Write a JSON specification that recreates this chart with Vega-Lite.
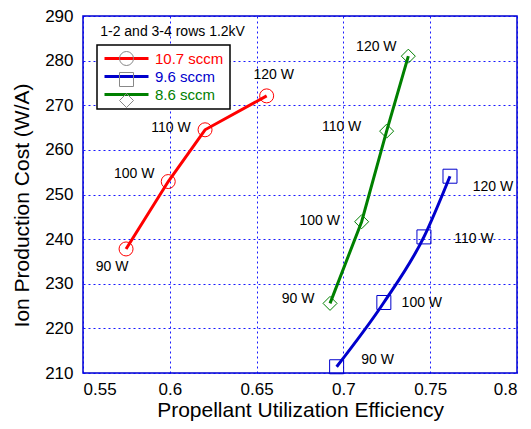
{
  "$schema": "https://vega.github.io/schema/vega-lite/v6.json",
  "width": 434,
  "height": 357,
  "autosize": {"type": "none"},
  "padding": {"left": 83, "top": 16, "right": 14, "bottom": 56},
  "background": "#ffffff",
  "config": {
    "font": "Liberation Sans",
    "view": {"stroke": "#0000cc", "strokeWidth": 1.5},
    "axis": {
      "grid": true,
      "gridColor": "#0000ff",
      "gridDash": [2, 3],
      "gridWidth": 1,
      "gridOpacity": 0.9,
      "domain": false,
      "ticks": false,
      "labelFont": "Liberation Sans",
      "labelFontSize": 17,
      "labelColor": "#000000",
      "titleFont": "Liberation Sans",
      "titleFontSize": 21,
      "titleFontWeight": "normal",
      "titleColor": "#000000"
    }
  },
  "data": {
    "values": [
      {"series": "10.7 sccm", "power": "90 W", "eff": 0.5748, "cost": 237.8},
      {"series": "10.7 sccm", "power": "100 W", "eff": 0.5991, "cost": 252.9},
      {"series": "10.7 sccm", "power": "110 W", "eff": 0.6203, "cost": 264.5},
      {"series": "10.7 sccm", "power": "120 W", "eff": 0.6558, "cost": 272.1},
      {"series": "9.6 sccm", "power": "90 W", "eff": 0.6961, "cost": 211.4},
      {"series": "9.6 sccm", "power": "100 W", "eff": 0.7233, "cost": 225.8},
      {"series": "9.6 sccm", "power": "110 W", "eff": 0.7464, "cost": 240.5},
      {"series": "9.6 sccm", "power": "120 W", "eff": 0.7614, "cost": 254.1},
      {"series": "8.6 sccm", "power": "90 W", "eff": 0.6923, "cost": 225.6},
      {"series": "8.6 sccm", "power": "100 W", "eff": 0.7105, "cost": 243.9},
      {"series": "8.6 sccm", "power": "110 W", "eff": 0.7249, "cost": 264.2},
      {"series": "8.6 sccm", "power": "120 W", "eff": 0.7374, "cost": 281.0}
    ]
  },
  "encoding": {
    "x": {
      "field": "eff",
      "type": "quantitative",
      "scale": {"domain": [0.55, 0.8], "nice": false, "zero": false},
      "axis": {
        "title": "Propellant Utilization Efficiency",
        "values": [0.55, 0.6, 0.65, 0.7, 0.75, 0.8],
        "format": ".2~f",
        "labelPadding": 8,
        "titlePadding": 2
      }
    },
    "y": {
      "field": "cost",
      "type": "quantitative",
      "scale": {"domain": [210, 290], "nice": false, "zero": false},
      "axis": {
        "title": "Ion Production Cost (W/A)",
        "values": [210, 220, 230, 240, 250, 260, 270, 280, 290],
        "labelPadding": 10,
        "titleX": -61,
        "titleY": 189,
        "titleAngle": -90,
        "titleAlign": "center",
        "titleBaseline": "middle"
      }
    }
  },
  "layer": [
    {
      "transform": [{"filter": "datum.series != '9.6 sccm'"}],
      "mark": {"type": "line", "strokeWidth": 3},
      "encoding": {
        "color": {
          "field": "series",
          "type": "nominal",
          "scale": {"domain": ["10.7 sccm", "9.6 sccm", "8.6 sccm"], "range": ["#ff0000", "#0000cc", "#008000"]},
          "legend": {
            "orient": "none",
            "legendX": 14,
            "legendY": 29,
            "title": null,
            "symbolType": "M-4,0H4",
            "symbolSize": 121,
            "symbolStrokeWidth": 3,
            "symbolOffset": 16,
            "labelOffset": 21,
            "labelFontSize": 15,
            "labelFont": "Liberation Sans",
            "padding": 6,
            "rowPadding": 2,
            "strokeColor": "#000000",
            "fillColor": "#ffffff",
            "encode": {
              "labels": {"update": {"fill": {"scale": "color", "field": "value"}}},
              "symbols": {"update": {"stroke": {"scale": "color", "field": "value"}, "fill": {"value": "transparent"}, "strokeWidth": {"value": 3}}},
              "legend": {"update": {"strokeWidth": {"value": 1.5}}}
            }
          }
        }
      }
    },
    {
      "transform": [{"filter": "datum.series == '9.6 sccm'"}],
      "mark": {"type": "line", "strokeWidth": 3, "interpolate": "monotone"},
      "encoding": {
        "color": {"field": "series", "type": "nominal"}
      }
    },
    {
      "mark": {"type": "point", "filled": false, "size": 196, "strokeWidth": 1, "opacity": 1},
      "encoding": {
        "color": {"field": "series", "type": "nominal"},
        "shape": {
          "field": "series",
          "type": "nominal",
          "sort": ["10.7 sccm", "9.6 sccm", "8.6 sccm"],
          "scale": {"range": ["circle", "square", "diamond"]},
          "legend": {
            "orient": "none",
            "legendX": 14,
            "legendY": 29,
            "title": null,
            "symbolSize": 196,
            "symbolStrokeWidth": 1,
            "symbolOffset": 16,
            "labelOffset": 21,
            "labelFontSize": 15,
            "labelExpr": "''",
            "padding": 6,
            "rowPadding": 2,
            "encode": {
              "symbols": {"update": {"stroke": {"scale": "color", "field": "value"}, "fill": {"value": "transparent"}, "strokeWidth": {"value": 1}}}
            }
          }
        }
      }
    },
    {
      "transform": [{"filter": "datum.series == '10.7 sccm' && datum.power == '90 W'"}],
      "mark": {"type": "text", "dx": -14, "dy": 18.5, "fontSize": 14, "color": "#000000"},
      "encoding": {"text": {"field": "power"}}
    },
    {
      "transform": [{"filter": "datum.series == '10.7 sccm' && datum.power == '100 W'"}],
      "mark": {"type": "text", "dx": -34, "dy": -7.5, "fontSize": 14, "color": "#000000"},
      "encoding": {"text": {"field": "power"}}
    },
    {
      "transform": [{"filter": "datum.series == '10.7 sccm' && datum.power == '110 W'"}],
      "mark": {"type": "text", "dx": -34, "dy": -2, "fontSize": 14, "color": "#000000"},
      "encoding": {"text": {"field": "power"}}
    },
    {
      "transform": [{"filter": "datum.series == '10.7 sccm' && datum.power == '120 W'"}],
      "mark": {"type": "text", "dx": 7, "dy": -21, "fontSize": 14, "color": "#000000"},
      "encoding": {"text": {"field": "power"}}
    },
    {
      "transform": [{"filter": "datum.series == '8.6 sccm' && datum.power == '90 W'"}],
      "mark": {"type": "text", "dx": -32, "dy": -4, "fontSize": 14, "color": "#000000"},
      "encoding": {"text": {"field": "power"}}
    },
    {
      "transform": [{"filter": "datum.series == '8.6 sccm' && datum.power == '100 W'"}],
      "mark": {"type": "text", "dx": -42, "dy": -1, "fontSize": 14, "color": "#000000"},
      "encoding": {"text": {"field": "power"}}
    },
    {
      "transform": [{"filter": "datum.series == '8.6 sccm' && datum.power == '110 W'"}],
      "mark": {"type": "text", "dx": -45, "dy": -4, "fontSize": 14, "color": "#000000"},
      "encoding": {"text": {"field": "power"}}
    },
    {
      "transform": [{"filter": "datum.series == '8.6 sccm' && datum.power == '120 W'"}],
      "mark": {"type": "text", "dx": -32, "dy": -9, "fontSize": 14, "color": "#000000"},
      "encoding": {"text": {"field": "power"}}
    },
    {
      "transform": [{"filter": "datum.series == '9.6 sccm' && datum.power == '90 W'"}],
      "mark": {"type": "text", "dx": 41, "dy": -7, "fontSize": 14, "color": "#000000"},
      "encoding": {"text": {"field": "power"}}
    },
    {
      "transform": [{"filter": "datum.series == '9.6 sccm' && datum.power == '100 W'"}],
      "mark": {"type": "text", "dx": 38, "dy": 1, "fontSize": 14, "color": "#000000"},
      "encoding": {"text": {"field": "power"}}
    },
    {
      "transform": [{"filter": "datum.series == '9.6 sccm' && datum.power == '110 W'"}],
      "mark": {"type": "text", "dx": 50, "dy": 2, "fontSize": 14, "color": "#000000"},
      "encoding": {"text": {"field": "power"}}
    },
    {
      "transform": [{"filter": "datum.series == '9.6 sccm' && datum.power == '120 W'"}],
      "mark": {"type": "text", "dx": 43, "dy": 11, "fontSize": 14, "color": "#000000"},
      "encoding": {"text": {"field": "power"}}
    },
    {
      "transform": [{"filter": "datum.series == '10.7 sccm' && datum.power == '90 W'"}],
      "mark": {"type": "text", "text": "1-2 and 3-4 rows 1.2kV", "fontSize": 14, "align": "center", "baseline": "middle", "color": "#000000"},
      "encoding": {
        "x": {"datum": 0.6016},
        "y": {"datum": 286.5}
      }
    }
  ]
}
